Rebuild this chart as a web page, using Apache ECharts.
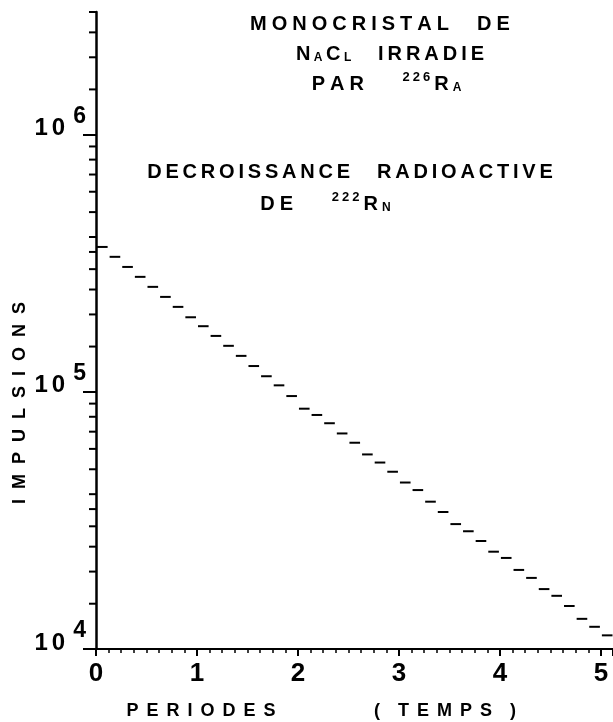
<!DOCTYPE html>
<html>
<head>
<meta charset="utf-8">
<script src="https://cdn.jsdelivr.net/npm/echarts@6/dist/echarts.min.js"></script>
<style>
html,body{margin:0;padding:0;background:#fff;}
#main{width:613px;height:722px;}
</style>
</head>
<body>
<div id="main"></div>
<script>
// Data: each dash covers one step in periods, with counts (impulsions)
const stepStart = [0,0.125,0.25,0.375,0.5,0.625,0.75,0.875,1,1.125,1.25,1.375,1.5,1.625,1.75,1.875,2,2.125,2.25,2.375,2.5,2.625,2.75,2.875,3,3.125,3.25,3.375,3.5,3.625,3.75,3.875,4,4.125,4.25,4.375,4.5,4.625,4.75,4.875,5];
const stepEnd = [0.125,0.25,0.375,0.5,0.625,0.75,0.875,1,1.125,1.25,1.375,1.5,1.625,1.75,1.875,2,2.125,2.25,2.375,2.5,2.625,2.75,2.875,3,3.125,3.25,3.375,3.5,3.625,3.75,3.875,4,4.125,4.25,4.375,4.5,4.625,4.75,4.875,5,5.125];
const impulsions = [366000,335000,306000,280000,256000,234000,214000,195000,180000,165000,151000,138000,126000,115000,106000,96300,86000,81300,75500,68900,63400,57100,53100,48900,44400,41500,37400,34100,30600,28700,26300,23900,22600,20300,18900,17100,16100,14700,13100,12200,11300];
const xTickLabels = ['0','1','2','3','4','5'];
const yMajorTicks = [1e4,1e5,1e6];
const yMinorTicks = [1.5e4,2e4,2.5e4,3e4,3.5e4,4e4,5e4,6e4,7e4,8e4,9e4,
                     1.5e5,2e5,2.5e5,3e5,3.5e5,4e5,5e5,6e5,7e5,8e5,9e5,
                     1.5e6,2e6,2.5e6,3e6];

const FONT = '"Liberation Sans", Arial, Helvetica, sans-serif';

function spaced(str, style, spStyle){
  return str.split('').map(c => c === ' ' ? '{' + spStyle + '| }' : '{' + style + '|' + c + '}').join('');
}

const chart = echarts.init(document.getElementById('main'), null, {renderer:'canvas'});

function mkRich(pad){
  return {
    b:{fontFamily:FONT, fontWeight:'bold', fontSize:20, color:'#000', padding:[0,pad,0,pad], verticalAlign:'bottom', lineHeight:24},
    m:{fontFamily:FONT, fontWeight:'bold', fontSize:12, color:'#000', padding:[0,1.5,0,1.5], verticalAlign:'bottom', lineHeight:24},
    u:{fontFamily:FONT, fontWeight:'bold', fontSize:13, color:'#000', padding:[0,1.5,10,1.5], verticalAlign:'bottom', lineHeight:24},
    s:{fontFamily:FONT, fontWeight:'bold', fontSize:20, color:'#000', padding:[0,3,0,3], verticalAlign:'bottom', lineHeight:24}
  };
}

function titleText(x, y, text, pad){
  return {type:'text', x:x, y:y, silent:true,
    style:{text:text, rich:mkRich(pad), align:'center', verticalAlign:'middle', fill:'#000'}};
}

const option = {
  backgroundColor:'#fff',
  animation:false,
  grid:{left:96, right:0, top:12, bottom:73, containLabel:false},
  xAxis:[{
    type:'value', min:0, max:5.12, interval:1,
    axisLine:{show:true, onZero:false, lineStyle:{color:'#000', width:2}},
    axisTick:{show:true, length:7, lineStyle:{color:'#000', width:2}},
    minorTick:{show:true, splitNumber:8, length:4, lineStyle:{color:'#000', width:1.5}},
    splitLine:{show:false},
    axisLabel:{show:true, margin:12, fontFamily:FONT, fontWeight:'bold', fontSize:26, color:'#000',
      formatter:(v)=>{const i=Math.round(v); return (Math.abs(v-i)<1e-6 && xTickLabels[i]!==undefined)? xTickLabels[i] : '';},
      showMaxLabel:false}
  }],
  yAxis:[{
    type:'log', logBase:10, min:1e4, max:3e6,
    axisLine:{show:true, lineStyle:{color:'#000', width:2.5}},
    axisTick:{show:true, length:13, lineStyle:{color:'#000', width:2}},
    splitLine:{show:false},
    minorTick:{show:false},
    axisLabel:{show:true, margin:10, showMaxLabel:false, verticalAlign:'bottom',
      formatter:(v)=>{
        const e = Math.log10(v);
        if (Math.abs(e-Math.round(e))>1e-6) return '';
        return '{b|1}{b|0}{s|' + Math.round(e) + '}';
      },
      rich:{
        b:{fontFamily:FONT, fontWeight:'bold', fontSize:24, color:'#000', padding:[0,2,-6,2], verticalAlign:'bottom'},
        s:{fontFamily:FONT, fontWeight:'bold', fontSize:23, color:'#000', padding:[0,0,7,6], verticalAlign:'bottom'}
      }
    }
  }],
  series:[
    {
      type:'custom', name:'impulsions', clip:false,
      data: impulsions.map((v,i)=>[stepStart[i], stepEnd[i], v]),
      encode:{x:[0,1], y:2},
      renderItem:(params, api)=>{
        const p0 = api.coord([api.value(0), api.value(2)]);
        const p1 = api.coord([api.value(1), api.value(2)]);
        return {type:'line', shape:{x1:p0[0]+1, y1:p0[1], x2:p1[0]-1, y2:p1[1]},
          style:{stroke:'#000', lineWidth:2}};
      }
    },
    {
      type:'custom', name:'minorTicksY', clip:false, silent:true,
      data: yMinorTicks.map(v=>[0, v]),
      encode:{x:0, y:1},
      renderItem:(params, api)=>{
        const p = api.coord([api.value(0), api.value(1)]);
        return {type:'line', shape:{x1:p[0]-7, y1:p[1], x2:p[0], y2:p[1]},
          style:{stroke:'#000', lineWidth:2}};
      }
    }
  ],
  graphic:[
    titleText(380, 22, spaced('MONOCRISTAL', 'b', 's') + '{s| }{s| }' + spaced('DE','b','s'), 2.5),
    titleText(390, 52, '{b|N}{m|A}{b|C}{m|L}{s| }{s| }' + spaced('IRRADIE','b','s'), 2),
    titleText(386, 82, spaced('PAR','b','s') + '{s| }{s| }{s| }{u|2}{u|2}{u|6}{b|R}{m|A}', 2.5),
    titleText(350, 170, spaced('DECROISSANCE','b','s') + '{s| }{s| }' + spaced('RADIOACTIVE','b','s'), 1.9),
    titleText(325, 202, spaced('DE','b','s') + '{s| }{s| }{s| }{u|2}{u|2}{u|2}{b|R}{m|N}', 2.5),
    {type:'text', x:20, y:403, rotation:Math.PI/2, silent:true,
      style:{text: spaced('IMPULSIONS','y','ys'), align:'center', verticalAlign:'middle',
        rich:{y:{fontFamily:FONT, fontWeight:'bold', fontSize:18, color:'#000', padding:[0,5,0,5]},
              ys:{fontFamily:FONT, fontWeight:'bold', fontSize:18, color:'#000'}}}},
    {type:'text', x:201, y:711, silent:true,
      style:{text: spaced('PERIODES','p','ps'), align:'center', verticalAlign:'middle',
        rich:{p:{fontFamily:FONT, fontWeight:'bold', fontSize:18, color:'#000', padding:[0,4,0,4]},
              ps:{fontFamily:FONT, fontWeight:'bold', fontSize:18, color:'#000'}}}},
    {type:'text', x:445, y:711, silent:true,
      style:{text: '{p|(}{ps| }{ps| }' + spaced('TEMPS','p','ps') + '{ps| }{ps| }{p|)}', align:'center', verticalAlign:'middle',
        rich:{p:{fontFamily:FONT, fontWeight:'bold', fontSize:18, color:'#000', padding:[0,4,0,4]},
              ps:{fontFamily:FONT, fontWeight:'bold', fontSize:18, color:'#000'}}}}
  ]
};
chart.setOption(option);
</script>
</body>
</html>
